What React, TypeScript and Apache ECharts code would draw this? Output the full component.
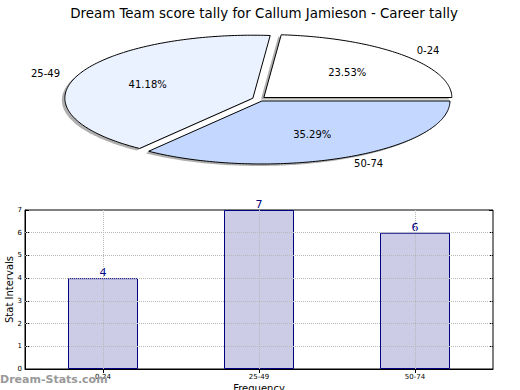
import React, { useEffect, useRef } from "react";
import * as echarts from "echarts";

const titleText = "Dream Team score tally for Callum Jamieson - Career tally";
const pieLabels = ["0-24", "25-49", "50-74"];
const pieValues = [4, 7, 6];
const pieColors = ["#ffffff", "#eaf1ff", "#c4d8ff"];
const barCategories = ["0-24", "25-49", "50-74"];
const barValues = [4, 7, 6];
const yTicks = [0, 1, 2, 3, 4, 5, 6, 7];

const FONT = "DejaVu Sans";

export default function App() {
  const ref = useRef<HTMLDivElement>(null);
  useEffect(() => {
    if (!ref.current) return;
    const chart = echarts.init(ref.current, undefined, { renderer: "svg" });
    const total = pieValues.reduce((a, b) => a + b, 0);
    const cx = 259, cy = 99, rx = 188, ry = 63, ex = 0.035;

    const renderItem = (params: any, api: any) => {
      const i = params.dataIndex;
      const v = api.value(0);
      let before = 0;
      for (let k = 0; k < i; k++) before += pieValues[k];
      const a0 = (before / total) * Math.PI * 2;
      const a1 = ((before + v) / total) * Math.PI * 2;
      const mid = (a0 + a1) / 2;
      const ox = cx + ex * rx * Math.cos(mid);
      const oy = cy - ex * ry * Math.sin(mid);
      const pts: number[][] = [[ox, oy]];
      const steps = Math.max(8, Math.ceil(((a1 - a0) * 180) / Math.PI));
      for (let s = 0; s <= steps; s++) {
        const a = a0 + ((a1 - a0) * s) / steps;
        pts.push([ox + rx * Math.cos(a), oy - ry * Math.sin(a)]);
      }
      const shadowPts = pts.map((p) => [p[0] - 3, p[1] + 2]);
      const pct = ((v / total) * 100).toFixed(2) + "%";
      const px = ox + 0.6 * rx * Math.cos(mid);
      const py = oy - 0.6 * ry * Math.sin(mid);
      const lx = ox + 1.1 * rx * Math.cos(mid);
      const ly = oy - 1.1 * ry * Math.sin(mid);
      return {
        type: "group",
        children: [
          {
            type: "polygon",
            z2: 0,
            shape: { points: shadowPts },
            style: { fill: "#7a7a7a", opacity: 0.6, stroke: "none" },
          },
          {
            type: "polygon",
            z2: 10,
            shape: { points: pts },
            style: { fill: pieColors[i], stroke: "#000", lineWidth: 1 },
          },
          {
            type: "text",
            z2: 20,
            style: {
              text: pct,
              x: px,
              y: py,
              fill: "#000",
              fontSize: 10,
              fontFamily: FONT,
              align: "center",
              verticalAlign: "middle",
            },
          },
          {
            type: "text",
            z2: 20,
            style: {
              text: pieLabels[i],
              x: lx,
              y: ly,
              fill: "#000",
              fontSize: 10,
              fontFamily: FONT,
              align: Math.cos(mid) >= 0 ? "left" : "right",
              verticalAlign: "middle",
            },
          },
        ],
      };
    };

    const gridLine = { type: "dotted" as const, color: "#b8b8b8", width: 1 };

    chart.setOption({
      animation: false,
      backgroundColor: "#fff",
      textStyle: { fontFamily: FONT },
      title: {
        text: titleText,
        left: 259,
        textAlign: "center",
        top: 2,
        textStyle: { fontSize: 13.4, fontWeight: "normal", color: "#000", fontFamily: FONT },
      },
      graphic: [
        {
          type: "text",
          left: 0,
          top: 374,
          z: 100,
          style: {
            text: "Dream-Stats.com",
            fill: "#999999",
            fontSize: 11,
            fontWeight: "bold",
            fontFamily: FONT,
          },
        },
      ],
      grid: {
        left: 25,
        right: 27,
        top: 210,
        bottom: 21,
        outerBoundsMode: "none",
        containLabel: false,
        show: true,
        borderColor: "#000",
        borderWidth: 1,
        backgroundColor: "transparent",
      },
      xAxis: [
        {
          type: "category",
          data: barCategories,
          position: "bottom",
          name: "Frequency",
          nameLocation: "middle",
          nameGap: 14,
          nameMoveOverlap: false,
          nameTextStyle: { fontSize: 10, color: "#000", fontFamily: FONT },
          axisLine: { show: true, lineStyle: { color: "#000" } },
          axisTick: { show: true, inside: true, alignWithLabel: true, length: 4, lineStyle: { color: "#000" } },
          axisLabel: { fontSize: 7, color: "#000", margin: 4, fontFamily: FONT },
          splitLine: { show: false },
        },
        {
          type: "category",
          data: barCategories,
          position: "top",
          axisLine: { show: false },
          axisTick: { show: true, inside: true, alignWithLabel: true, length: 4, lineStyle: { color: "#000" } },
          axisLabel: { show: false },
          splitLine: { show: false },
        },
      ],
      yAxis: [
        {
          type: "value",
          min: yTicks[0],
          max: yTicks[yTicks.length - 1],
          interval: 1,
          name: "Stat Intervals",
          nameLocation: "middle",
          nameGap: 11,
          nameMoveOverlap: false,
          nameTextStyle: { fontSize: 10, color: "#000", fontFamily: FONT },
          axisLine: { show: true, lineStyle: { color: "#000" } },
          axisTick: { show: true, inside: true, length: 4, lineStyle: { color: "#000" } },
          axisLabel: { fontSize: 7, color: "#000", margin: 3, fontFamily: FONT },
          splitLine: { show: false },
        },
        {
          type: "value",
          min: yTicks[0],
          max: yTicks[yTicks.length - 1],
          interval: 1,
          position: "right",
          axisLine: { show: false },
          axisTick: { show: true, inside: true, length: 4, lineStyle: { color: "#000" } },
          axisLabel: { show: false },
          splitLine: { show: false },
        },
      ],
      series: [
        {
          type: "custom",
          coordinateSystem: "none",
          renderItem,
          data: pieValues,
          silent: true,
        },
        {
          type: "bar",
          xAxisIndex: 0,
          yAxisIndex: 0,
          data: barValues,
          barWidth: 70,
          itemStyle: { color: "#ccccE6", borderColor: "#000080", borderWidth: 1 },
          label: {
            show: true,
            position: "top",
            distance: 0,
            color: "#000080",
            fontSize: 11,
            fontFamily: FONT,
          },
          markLine: {
            silent: true,
            symbol: "none",
            z: 5,
            label: { show: false },
            lineStyle: gridLine,
            data: [
              ...yTicks.slice(1, -1).map((t) => ({ yAxis: t })),
              ...barCategories.map((c) => ({ xAxis: c })),
            ],
          },
        },
      ],
    });
    return () => chart.dispose();
  }, []);
  return (
    <div
      ref={ref}
      style={{ position: "fixed", left: 0, top: 0, width: 520, height: 390 }}
    />
  );
}
